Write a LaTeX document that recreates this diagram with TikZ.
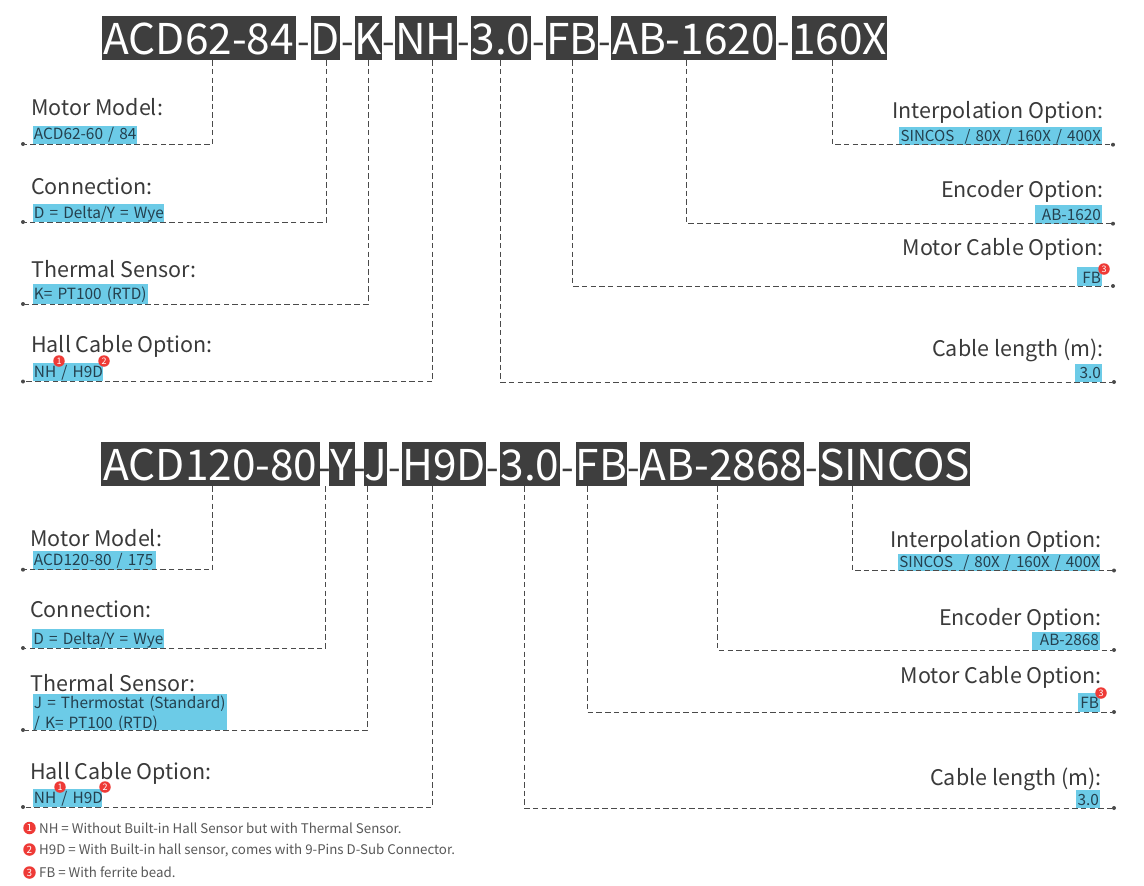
\documentclass[tikz,border=0pt]{standalone}
\usepackage{fontspec}
\setmainfont{Noto Sans CJK SC}
\newfontfamily\subfont[WordSpace=0.5]{Noto Sans CJK SC}
\definecolor{tbox}{HTML}{3E3E3E}
\definecolor{hlc}{HTML}{6CCBE7}
\definecolor{ink}{HTML}{3A3A3A}
\definecolor{sub}{HTML}{24404E}
\definecolor{linec}{HTML}{4A4A4A}
\definecolor{badge}{HTML}{EE3A36}
\tikzset{
 titlebox/.style={fill=tbox,text=white,inner sep=0pt,minimum height=44pt,text height=32pt,text depth=0pt,font=\fontsize{42.4}{44}\selectfont},
 titledash/.style={text=ink,inner sep=0pt,minimum height=44pt,text height=32pt,text depth=0pt,font=\fontsize{36}{44}\selectfont},
 lab/.style={text=ink,inner sep=0pt,font=\fontsize{21.5}{24}\selectfont},
 hl/.style={fill=hlc,text=sub,inner xsep=1.2pt,inner ysep=0pt,font=\subfont\fontsize{15.4}{20}\selectfont},
 conn/.style={draw=linec,line width=1pt,dash pattern=on 5.5pt off 3.2pt},
 enddot/.style={circle,fill=linec,inner sep=0pt,minimum size=4pt},
 bdg/.style={circle,fill=badge,text=white,inner sep=0pt,minimum size=11.5pt,font=\fontsize{9}{9}\selectfont},
 note/.style={text=ink!85,inner sep=0pt,anchor=base west,font=\fontsize{13.3}{14}\selectfont},
}
\newcommand\tn[5]{\pgfmathsetmacro\tw{#3-#2}\pgfmathsetmacro\tc{(#2+#3)/2}\node[titlebox,minimum width=\tw pt] (#1) at (\tc,#4) {#5};}
\newcommand\hlb[8]{\pgfmathsetmacro\hw{#3-#2-2.4}\pgfmathsetmacro\hh{#6-#4}\pgfmathsetmacro\hd{#5-#6}\node[hl,anchor=base west,text width=\hw pt,text height=\hh pt,text depth=\hd pt,align=#7] (#1) at (#2,#6) {#8};}
\newcommand\cn[4]{\coordinate (#4v) at (#2,0);\node[enddot] (#4) at #3 {};\draw[conn] (#1.south -| #4v) |- (#4);}
\begin{document}
\begin{tikzpicture}[x=1pt,y=-1pt]
\useasboundingbox (0,0) rectangle (1144,886);
% ---------- top part number
\tn{a1}{101.5}{296}{38}{ACD62-84}
\tn{a2}{311}{340}{38}{D}
\tn{a3}{355}{382}{38}{K}
\tn{a4}{396}{456}{38}{NH}
\tn{a5}{471}{531}{38}{3.0}
\tn{a6}{546}{598}{38}{FB}
\tn{a7}{611}{776}{38}{AB-1620}
\tn{a8}{792}{887}{38}{160X}
\node[titledash] (ad1) at (303.5,38) {-};
\node[titledash] (ad2) at (347.5,38) {-};
\node[titledash] (ad3) at (389,38) {-};
\node[titledash] (ad4) at (463.5,38) {-};
\node[titledash] (ad5) at (538.5,38) {-};
\node[titledash] (ad6) at (604.5,38) {-};
\node[titledash] (ad7) at (784,38) {-};
% ---------- bottom part number
\tn{b1}{101}{320}{464}{ACD120-80}
\tn{b2}{329}{355}{464}{Y}
\tn{b3}{364}{387}{464}{J}
\tn{b4}{402}{486}{464}{H9D}
\tn{b5}{500}{560}{464}{3.0}
\tn{b6}{576}{627}{464}{FB}
\tn{b7}{640}{804}{464}{AB-2868}
\tn{b8}{819}{970}{464}{SINCOS}
\node[titledash] (bd1) at (324.5,464) {-};
\node[titledash] (bd2) at (359.5,464) {-};
\node[titledash] (bd3) at (394.5,464) {-};
\node[titledash] (bd4) at (493,464) {-};
\node[titledash] (bd5) at (568,464) {-};
\node[titledash] (bd6) at (633.5,464) {-};
\node[titledash] (bd7) at (811.5,464) {-};
% ---------- top left labels
\node[lab,anchor=base west] (l1) at (31,115) {Motor Model:};
\node[lab,anchor=base west] (l2) at (31,194) {Connection:};
\node[lab,anchor=base west] (l3) at (31,277) {Thermal Sensor:};
\node[lab,anchor=base west] (l4) at (31,352) {Hall Cable Option:};
\hlb{s1}{32.5}{137}{126}{144}{139}{left}{\mbox{ACD62-60 / 84}}
\hlb{s2}{32.5}{164}{204}{222}{218}{left}{\mbox{D = Delta/Y = Wye}}
\hlb{s3}{32.5}{148}{284}{304}{299}{left}{\mbox{K= PT100 (RTD)}}
\hlb{s4}{32.5}{103}{363}{381}{377}{left}{\mbox{NH / H9D}}
% ---------- top right labels
\node[lab,anchor=base east] (r1) at (1104,118) {Interpolation Option:};
\node[lab,anchor=base east] (r2) at (1104,197) {Encoder Option:};
\node[lab,anchor=base east] (r3) at (1104,255) {Motor Cable Option:};
\node[lab,anchor=base east] (r4) at (1104,356) {Cable length (m):};
\hlb{q1}{899}{1102}{127}{144.5}{141.7}{right}{\mbox{\fontsize{15.1}{20}\selectfont SINCOS\ \ / 80X / 160X / 400X}}
\hlb{q2}{1035}{1102}{205}{223.5}{220}{right}{AB-1620}
\hlb{q3}{1077}{1102}{267}{286}{283}{right}{FB}
\hlb{q4}{1075}{1102}{364}{382}{378}{right}{3.0}
% ---------- bottom left labels
\node[lab,anchor=base west] (m1) at (30,546) {Motor Model:};
\node[lab,anchor=base west] (m2) at (30,617) {Connection:};
\node[lab,anchor=base west] (m3) at (30,691) {Thermal Sensor:};
\node[lab,anchor=base west] (m4) at (30,779) {Hall Cable Option:};
\hlb{u1}{32.5}{156}{551}{569.5}{565}{left}{\mbox{ACD120-80 / 175}}
\hlb{u2}{32}{164}{629}{648}{644}{left}{\mbox{D = Delta/Y = Wye}}
\hlb{u3}{32.5}{227}{694}{730}{708}{left}{\mbox{J = Thermostat (Standard)}\\\mbox{/ K= PT100 (RTD)}}
\hlb{u4}{32.5}{102}{789}{807}{803}{left}{\mbox{NH / H9D}}
% ---------- bottom right labels
\node[lab,anchor=base east] (w1) at (1102,547) {Interpolation Option:};
\node[lab,anchor=base east] (w2) at (1102,625) {Encoder Option:};
\node[lab,anchor=base east] (w3) at (1102,683) {Motor Cable Option:};
\node[lab,anchor=base east] (w4) at (1102,785) {Cable length (m):};
\hlb{v1}{898}{1100}{554}{571}{567.7}{right}{\mbox{\fontsize{15.1}{20}\selectfont SINCOS\ \ / 80X / 160X / 400X}}
\hlb{v2}{1032}{1100}{632}{650}{645}{right}{AB-2868}
\hlb{v3}{1078}{1100}{693}{712}{708}{right}{FB}
\hlb{v4}{1076}{1100}{790}{808}{805}{right}{3.0}
% ---------- connectors top
\cn{a1}{212.7}{(23,144)}{ea1}
\cn{a2}{326}{(23,222)}{ea2}
\cn{a3}{368}{(23,304)}{ea3}
\cn{a4}{432.7}{(23,381.5)}{ea4}
\cn{a5}{500}{(1114,382)}{ea5}
\cn{a6}{572.7}{(1113,286)}{ea6}
\cn{a7}{686.5}{(1113,223.7)}{ea7}
\cn{a8}{832.7}{(1113,144.7)}{ea8}
% ---------- connectors bottom
\cn{b1}{212.7}{(23,569.7)}{eb1}
\cn{b2}{325.7}{(23,648)}{eb2}
\cn{b3}{367.7}{(23,730)}{eb3}
\cn{b4}{432.3}{(23,807)}{eb4}
\cn{b5}{524}{(1114,808)}{eb5}
\cn{b6}{587.3}{(1114,712)}{eb6}
\cn{b7}{717.3}{(1114,650)}{eb7}
\cn{b8}{852.3}{(1114,570.5)}{eb8}
% ---------- badges
\node[bdg] (n1) at (59,361) {1};
\node[bdg] (n2) at (104,361) {2};
\node[bdg] (n3) at (1104,269) {3};
\node[bdg] (n4) at (60,787) {1};
\node[bdg] (n5) at (105,787) {2};
\node[bdg] (n6) at (1101,693) {3};
\node[bdg,minimum size=12.5pt,font=\fontsize{10}{10}\selectfont] (f1) at (29.5,828) {1};
\node[bdg,minimum size=12.5pt,font=\fontsize{10}{10}\selectfont] (f2) at (29.5,849.5) {2};
\node[bdg,minimum size=12.5pt,font=\fontsize{10}{10}\selectfont] (f3) at (29.5,872.5) {3};
\node[note] (t1) at (39,833) {NH = Without Built-in Hall Sensor but with Thermal Sensor.};
\node[note] (t2) at (39,854) {H9D = With Built-in hall sensor, comes with 9-Pins D-Sub Connector.};
\node[note] (t3) at (39,877) {FB = With ferrite bead.};
\end{tikzpicture}
\end{document}
